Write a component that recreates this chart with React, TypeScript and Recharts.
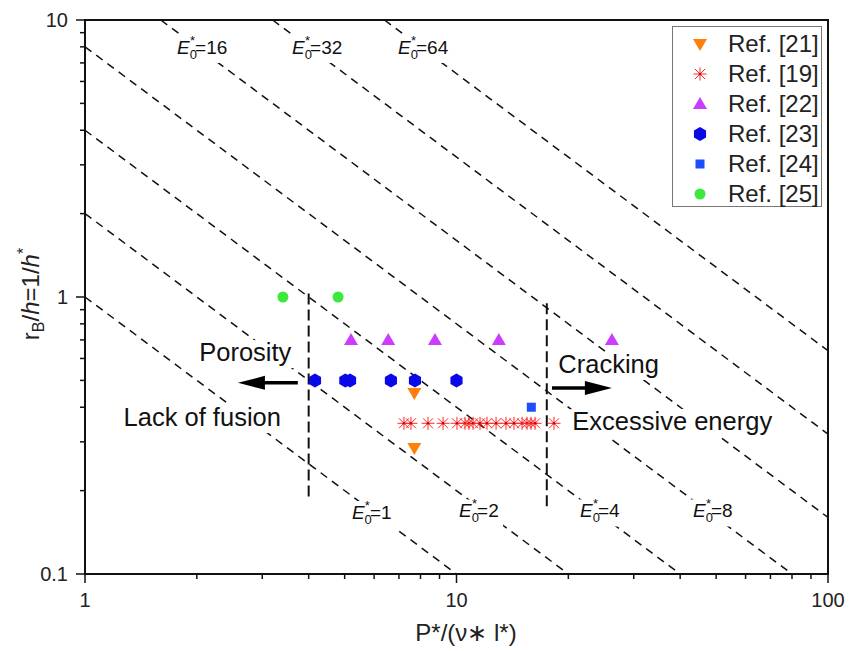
import React from 'react';
import { ScatterChart, Scatter, XAxis, YAxis, ReferenceLine, ReferenceDot, ReferenceArea } from 'recharts';

// series (x = P*/(v* l*), y = rB/h)
const ref21 = [
  { x: 7.7, y: 0.45 },
  { x: 7.7, y: 0.285 },
];
const ref19X = [7.22, 7.54, 8.38, 9.2, 10.03, 10.54, 10.8, 11.08, 11.57, 12.08, 12.78, 13.59, 14.28, 15.01, 15.48, 15.87, 16.27, 18.3];
const ref19Y = 0.35;
const ref22X = [5.2, 6.55, 8.75, 13.0, 26.2];
const ref22Y = 0.7;
const ref23X = [4.16, 5.02, 5.17, 6.66, 7.73, 10.0];
const ref23Y = 0.5;
const ref24 = [{ x: 15.9, y: 0.4 }];
const ref25 = [
  { x: 3.41, y: 1 },
  { x: 4.8, y: 1 },
];

const energyLevels = [1, 2, 4, 8, 16, 32, 64];
const xTicks = [1, 2, 3, 4, 5, 6, 7, 8, 9, 10, 20, 30, 40, 50, 60, 70, 80, 90, 100];
const yTicks = [0.1, 0.2, 0.3, 0.4, 0.5, 0.6, 0.7, 0.8, 0.9, 1, 2, 3, 4, 5, 6, 7, 8, 9, 10];
const xDomain = [1, 100];
const yDomain = [0.1, 10];

const ref19 = ref19X.map((x) => ({ x, y: ref19Y }));
const ref22 = ref22X.map((x) => ({ x, y: ref22Y }));
const ref23 = ref23X.map((x) => ({ x, y: ref23Y }));

// iso-energy lines y = E/x, clipped to the plot box (straight on log-log)
const isoLines = energyLevels.map((e) => {
  const x0 = Math.max(xDomain[0], e / yDomain[1]);
  const x1 = Math.min(xDomain[1], e / yDomain[0]);
  return { e, pts: [{ x: x0, y: e / x0 }, { x: x1, y: e / x1 }] };
});

const FONT = 'Arial, "Liberation Sans", sans-serif';

type Mk = (cx: number, cy: number) => React.ReactElement;

const triDown: Mk = (cx, cy) => (
  <polygon points={`${cx - 7},${cy - 5} ${cx + 7},${cy - 5} ${cx},${cy + 7}`} fill="#ff7f0a" />
);
const asterisk: Mk = (cx, cy) => (
  <g stroke="#ff2a2a" strokeWidth={1}>
    <line x1={cx - 6.5} y1={cy} x2={cx + 6.5} y2={cy} />
    <line x1={cx} y1={cy - 6.5} x2={cx} y2={cy + 6.5} />
    <line x1={cx - 5} y1={cy - 5} x2={cx + 5} y2={cy + 5} />
    <line x1={cx - 5} y1={cy + 5} x2={cx + 5} y2={cy - 5} />
    <circle cx={cx} cy={cy} r={1.3} fill="#d00000" stroke="none" />
  </g>
);
const triUp: Mk = (cx, cy) => (
  <polygon points={`${cx},${cy - 7} ${cx + 7},${cy + 5} ${cx - 7},${cy + 5}`} fill="#cc3cff" />
);
const hexagon: Mk = (cx, cy) => {
  const pts = [-90, -30, 30, 90, 150, 210]
    .map((a) => `${cx + 7 * Math.cos((a * Math.PI) / 180)},${cy + 7 * Math.sin((a * Math.PI) / 180)}`)
    .join(' ');
  return <polygon points={pts} fill="#0808e8" />;
};
const square: Mk = (cx, cy) => <rect x={cx - 4.5} y={cy - 4.5} width={9} height={9} fill="#1e4cff" />;
const circle: Mk = (cx, cy) => <circle cx={cx} cy={cy} r={5.5} fill="#3ce83c" />;

const series = [
  { name: 'Ref. [21]', data: ref21, mk: triDown },
  { name: 'Ref. [19]', data: ref19, mk: asterisk },
  { name: 'Ref. [22]', data: ref22, mk: triUp },
  { name: 'Ref. [23]', data: ref23, mk: hexagon },
  { name: 'Ref. [24]', data: ref24, mk: square },
  { name: 'Ref. [25]', data: ref25, mk: circle },
];

const isMajor = (v: number) => Math.abs(Math.log10(v) - Math.round(Math.log10(v))) < 1e-6;

const XTick = (p: any) => {
  const v = p.payload.value;
  const major = isMajor(v);
  return (
    <g>
      <line x1={p.x} y1={p.y} x2={p.x} y2={p.y + (major ? 9 : 5)} stroke="#111" strokeWidth={1.5} />
      {major && (
        <text x={p.x} y={p.y + 33} textAnchor="middle" fontSize={20} fill="#222" fontFamily={FONT}>
          {v}
        </text>
      )}
    </g>
  );
};

const YTick = (p: any) => {
  const v = p.payload.value;
  const major = isMajor(v);
  return (
    <g>
      <line x1={p.x - (major ? 9 : 5)} y1={p.y} x2={p.x} y2={p.y} stroke="#111" strokeWidth={1.5} />
      {major && (
        <text x={p.x - 17} y={p.y + 7} textAnchor="end" fontSize={20} fill="#222" fontFamily={FONT}>
          {v}
        </text>
      )}
    </g>
  );
};

const eLabel = (value: number) => (p: any) => {
  const w = value < 10 ? 46 : 57;
  return (
    <g>
      <rect x={p.cx - 2} y={p.cy - 18} width={w} height={27} fill="#fff" />
      <text x={p.cx} y={p.cy} fontSize={19} fill="#111" fontFamily={FONT}>
        <tspan fontStyle="italic">E</tspan>
        <tspan fontSize={13} dy={5}>0</tspan>
        <tspan fontSize={13} dx={-7} dy={-14}>*</tspan>
        <tspan dy={9}>={value}</tspan>
      </text>
    </g>
  );
};

const note = (txt: string, w: number) => (p: any) => (
  <g>
    <rect x={p.cx - 2} y={p.cy - 21} width={w} height={28} fill="#fff" />
    <text x={p.cx} y={p.cy} fontSize={25.5} fill="#111" fontFamily={FONT}>
      {txt}
    </text>
  </g>
);

const arrowHead = (dir: number) => (p: any) => (
  <polygon
    points={`${p.cx},${p.cy} ${p.cx - dir * 27},${p.cy - 7} ${p.cx - dir * 27},${p.cy + 7}`}
    fill="#000"
  />
);

const none = () => <g />;

export default function App() {
  return (
    <div style={{ position: 'absolute', left: 0, top: 0, width: 861, height: 651, background: '#fff', fontFamily: FONT }}>
      <ScatterChart width={861} height={651} margin={{ top: 20, right: 33, bottom: 7, left: 5 }}>
        <XAxis
          type="number"
          dataKey="x"
          scale="log"
          domain={xDomain}
          ticks={xTicks}
          interval={0}
          height={70}
          tickSize={0}
          tickMargin={0}
          tickLine={false}
          tick={XTick}
          axisLine={{ stroke: '#111', strokeWidth: 2 }}
          label={{
            content: () => (
              <text x={466} y={641} textAnchor="middle" fontSize={24} fill="#222" fontFamily={FONT}>
                P*/(ν∗ l*)
              </text>
            ),
          }}
        />
        <YAxis
          type="number"
          dataKey="y"
          scale="log"
          domain={yDomain}
          ticks={yTicks}
          interval={0}
          width={80}
          tickSize={0}
          tickMargin={0}
          tickLine={false}
          tick={YTick}
          axisLine={{ stroke: '#111', strokeWidth: 2 }}
          label={{
            content: () => (
              <text transform="rotate(-90 39 294)" x={39} y={294} textAnchor="middle" fontSize={24} fill="#222" fontFamily={FONT}>
                r<tspan fontSize={16} dy={5}>B</tspan>
                <tspan dy={-5}>/</tspan>
                <tspan fontStyle="italic">h</tspan>=1/<tspan fontStyle="italic">h</tspan>
                <tspan fontSize={16} dy={-10}>*</tspan>
              </text>
            ),
          }}
        />
        <ReferenceArea x1={1} x2={100} y1={0.1} y2={10} fill="none" stroke="#111" strokeWidth={2} />

        {isoLines.map((l) => (
          <Scatter
            key={l.e}
            data={l.pts}
            line={{ stroke: '#111', strokeWidth: 1.5, strokeDasharray: '8 6' }}
            shape={none}
            legendType="none"
            isAnimationActive={false}
          />
        ))}

        <ReferenceLine segment={[{ x: 4, y: 1.03 }, { x: 4, y: 0.185 }]} stroke="#111" strokeWidth={2} strokeDasharray="11 5" />
        <ReferenceLine segment={[{ x: 17.5, y: 0.95 }, { x: 17.5, y: 0.173 }]} stroke="#111" strokeWidth={2} strokeDasharray="11 5" />

        <ReferenceDot x={1.77} y={7.54} r={0} shape={eLabel(16)} />
        <ReferenceDot x={3.61} y={7.54} r={0} shape={eLabel(32)} />
        <ReferenceDot x={6.96} y={7.54} r={0} shape={eLabel(64)} />
        <ReferenceDot x={5.23} y={0.158} r={0} shape={eLabel(1)} />
        <ReferenceDot x={10.16} y={0.16} r={0} shape={eLabel(2)} />
        <ReferenceDot x={21.5} y={0.16} r={0} shape={eLabel(4)} />
        <ReferenceDot x={43.3} y={0.16} r={0} shape={eLabel(8)} />

        <ReferenceDot x={2.03} y={0.587} r={0} shape={note('Porosity', 98)} />
        <ReferenceDot x={1.27} y={0.342} r={0} shape={note('Lack of fusion', 168)} />
        <ReferenceDot x={18.8} y={0.532} r={0} shape={note('Cracking', 106)} />
        <ReferenceDot x={20.5} y={0.331} r={0} shape={note('Excessive energy', 212)} />

        <ReferenceLine segment={[{ x: 3.74, y: 0.49 }, { x: 3.0, y: 0.49 }]} stroke="#000" strokeWidth={3.5} />
        <ReferenceDot x={2.58} y={0.49} r={0} shape={arrowHead(-1)} />
        <ReferenceLine segment={[{ x: 18.07, y: 0.469 }, { x: 22.5, y: 0.469 }]} stroke="#000" strokeWidth={3.5} />
        <ReferenceDot x={26.2} y={0.469} r={0} shape={arrowHead(1)} />

        {series.map((s) => (
          <Scatter
            key={s.name}
            name={s.name}
            data={s.data}
            shape={(p: any) => s.mk(p.cx, p.cy)}
            isAnimationActive={false}
          />
        ))}
      </ScatterChart>

      <div
        style={{
          position: 'absolute',
          left: 672,
          top: 26,
          width: 150,
          height: 181,
          border: '1px solid #777',
          background: '#fff',
          boxSizing: 'border-box',
          paddingTop: 2,
        }}
      >
        {series.map((s) => (
          <div key={s.name} style={{ position: 'relative', height: 30 }}>
            <svg width={16} height={16} style={{ position: 'absolute', left: 19, top: 7 }}>
              {s.mk(8, 8)}
            </svg>
            <span style={{ position: 'absolute', left: 55, top: 0, fontSize: 24, lineHeight: '30px', color: '#222', whiteSpace: 'nowrap' }}>
              {s.name}
            </span>
          </div>
        ))}
      </div>
    </div>
  );
}
